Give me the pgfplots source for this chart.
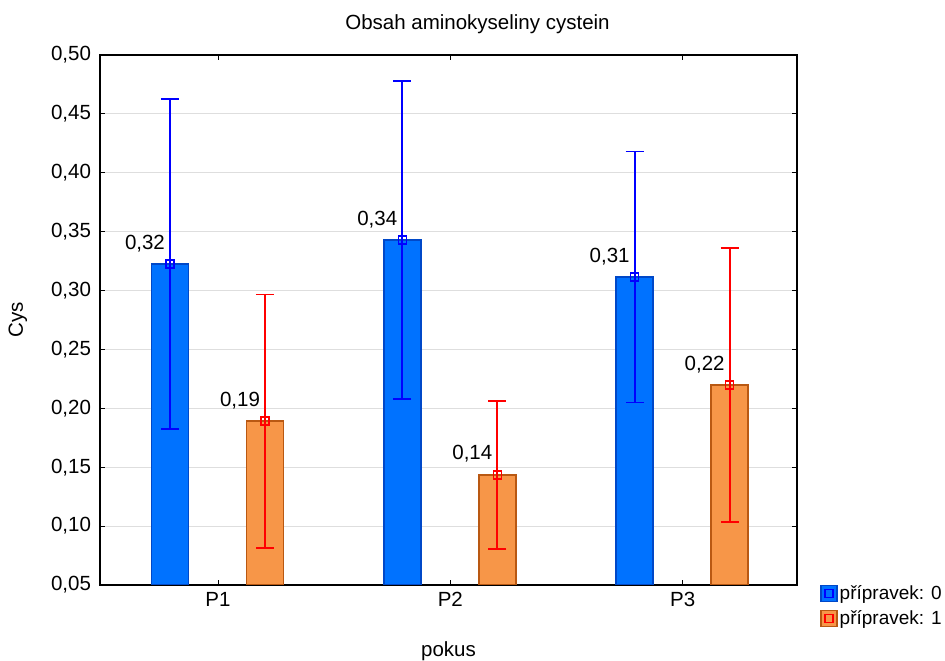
\documentclass[border=0pt]{standalone}
\usepackage{pgfplots}
\pgfplotsset{compat=1.18}
\usepackage{fontspec}
\setmainfont{Liberation Sans}
\definecolor{barblue}{RGB}{0,114,255}
\definecolor{bordblue}{RGB}{0,72,200}
\definecolor{barorange}{RGB}{247,150,72}
\definecolor{bordorange}{RGB}{185,88,18}
\definecolor{errblue}{RGB}{0,0,255}
\definecolor{errred}{RGB}{255,0,0}
\definecolor{gridgray}{RGB}{222,222,222}
\begin{document}
\fontsize{20.5}{24}\selectfont
\begin{tikzpicture}
\useasboundingbox (0,0) rectangle (945pt,661pt);
\begin{axis}[
  at={(100pt,76pt)}, anchor=south west,
  scale only axis, width=697pt, height=530pt,
  xmin=0.492, xmax=3.492, ymin=0.05, ymax=0.50,
  xtick={1,2,3}, xticklabels={P1,P2,P3},
  ytick={0.05,0.10,0.15,0.20,0.25,0.30,0.35,0.40,0.45,0.50},
  yticklabel style={xshift=-2pt, /pgf/number format/.cd, fixed, fixed zerofill, precision=2, use comma, assume math mode=true},
  tick align=inside, major tick length=5pt,
  tick style={black, line width=0.8pt},
  axis line style={line width=1.2pt},
  ymajorgrids, grid style={gridgray, line width=0.8pt},
  title={Obsah aminokyseliny cystein},
  title style={yshift=8pt, xshift=29pt},
  xlabel={pokus}, xlabel style={yshift=-21pt},
  ylabel={Cys}, ylabel style={yshift=10pt},
  font=\fontsize{20.5}{24}\selectfont,
  legend style={at={(axis description cs:1.033,0.004)}, anchor=north west, draw=none, fill=none, row sep=4pt, inner sep=0pt, font=\fontsize{19}{22}\selectfont, /tikz/every even column/.append style={column sep=2pt}},
  legend cell align=left,
]
% bars
\addplot[ybar, bar width=37pt, bar shift=0pt, fill=barblue, draw=bordblue, line width=1.5pt, forget plot]
  coordinates {(0.793,0.3225) (1.793,0.3429) (2.793,0.3115)};
\addplot[ybar, bar width=37pt, bar shift=0pt, fill=barorange, draw=bordorange, line width=1.5pt, forget plot]
  coordinates {(1.202,0.1892) (2.202,0.1434) (3.202,0.2198)};
% means, error bars and labels
\addplot[only marks, mark=square, mark size=4pt, errblue, line width=1.4pt, forget plot,
  error bars/.cd, y dir=both, y explicit, error mark=|,
  error bar style={line width=1.8pt, errblue},
  error mark options={mark size=9pt, line width=1.8pt, errblue}]
  table[x=x, y=y, y error=e] {
x y e
0.793 0.3225 0.1400
1.793 0.3429 0.1350
2.793 0.3115 0.1065
};
\addplot[only marks, mark=square, mark size=4pt, errred, line width=1.4pt, forget plot,
  error bars/.cd, y dir=both, y explicit, error mark=|,
  error bar style={line width=1.8pt, errred},
  error mark options={mark size=9pt, line width=1.8pt, errred}]
  table[x=x, y=y, y error=e] {
x y e
1.202 0.1892 0.1075
2.202 0.1434 0.0630
3.202 0.2198 0.1165
};
\addplot[only marks, mark=none, forget plot,
  nodes near coords, point meta=explicit symbolic,
  nodes near coords style={anchor=base east, xshift=2pt, yshift=15pt, black, font=\fontsize{20.5}{24}\selectfont}]
  table[x=x, y=y, meta=l] {
x y l
0.793 0.3225 {0,32}
1.793 0.3429 {0,34}
2.793 0.3115 {0,31}
1.202 0.1892 {0,19}
2.202 0.1434 {0,14}
3.202 0.2198 {0,22}
};
\addlegendimage{legend image code/.code={
  \draw[fill=barblue, draw=bordblue, line width=1.5pt] (0pt,-8pt) rectangle (16pt,8pt);
  \draw[errblue, line width=1.4pt] (4pt,-4pt) rectangle (12pt,4pt);}}
\addlegendentry{přípravek: 0}
\addlegendimage{legend image code/.code={
  \draw[fill=barorange, draw=bordorange, line width=1.5pt] (0pt,-8pt) rectangle (16pt,8pt);
  \draw[errred, line width=1.4pt] (4pt,-4pt) rectangle (12pt,4pt);}}
\addlegendentry{přípravek: 1}
\end{axis}
\end{tikzpicture}
\end{document}
